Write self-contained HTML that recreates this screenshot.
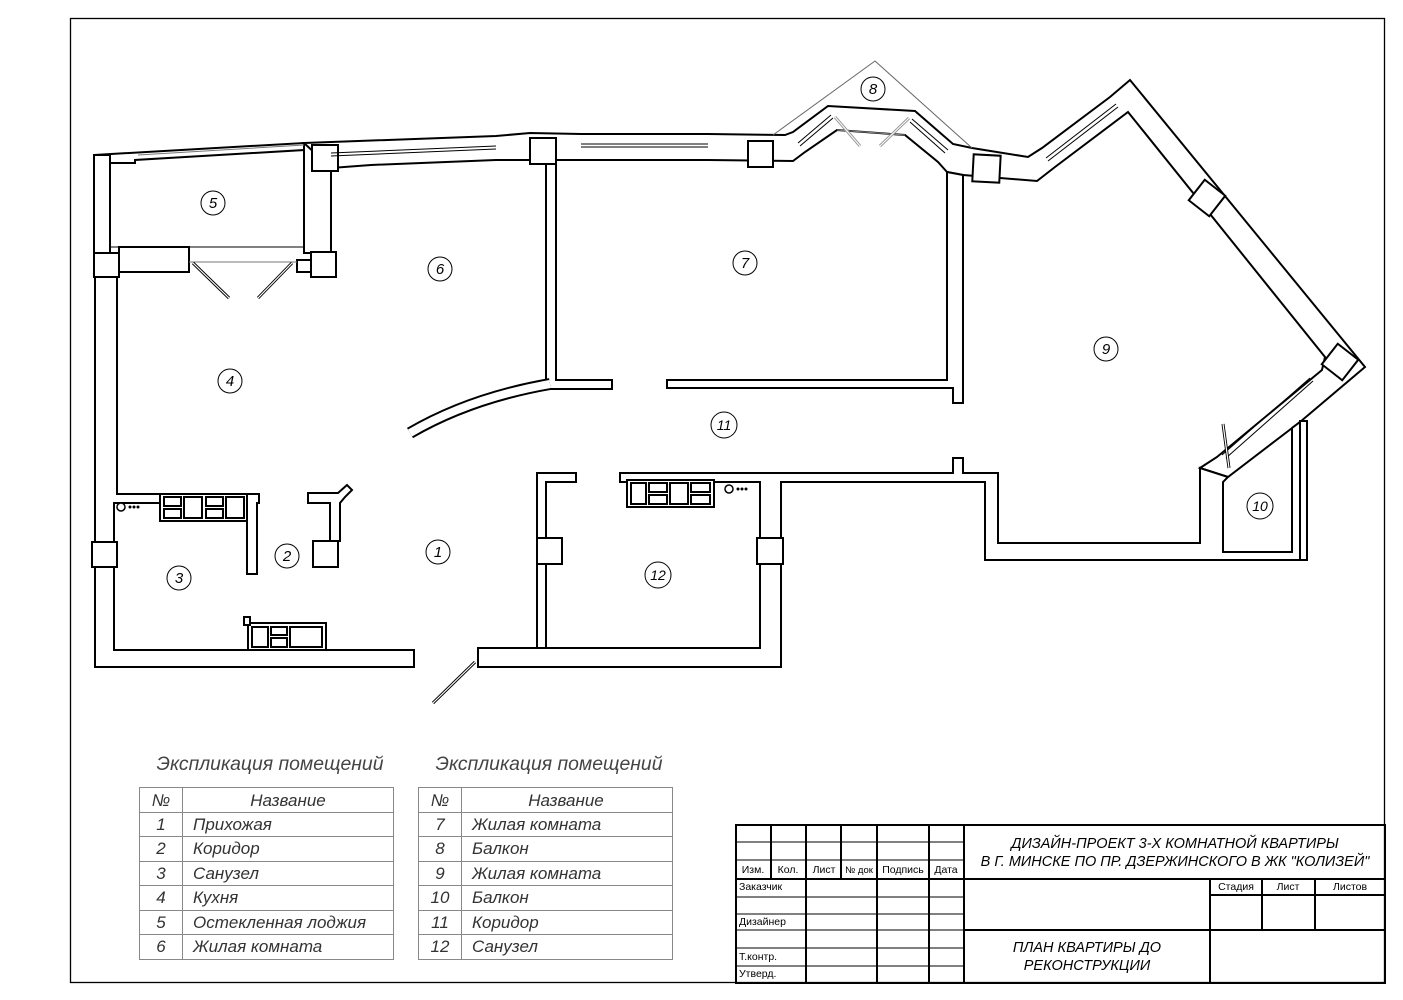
<!DOCTYPE html>
<html><head><meta charset="utf-8"><style>
html,body{margin:0;padding:0;background:#fff;}
svg{display:block;}
text{font-family:"Liberation Sans",sans-serif;}
</style></head><body>
<svg width="1403" height="1000" viewBox="0 0 1403 1000" xmlns="http://www.w3.org/2000/svg">
<rect x="0" y="0" width="1403" height="1000" fill="#fff"/>
<rect x="70.5" y="18.5" width="1314" height="964" fill="none" stroke="#000" stroke-width="1.3"/>

<g fill="#fff" stroke="#000" stroke-width="2" stroke-linejoin="miter">
<polygon points="94,155 304,143 304,150 135,160 135,163 110,163 110,155"/>
<rect x="94" y="155" width="16" height="98"/>
<rect x="94" y="253" width="25" height="24"/>
<polygon points="95,277 117,277 117,494 259,494 259,503 257,503 257,574 247,574 247,503 114,503 114,650 414,650 414,667 95,667"/>
<rect x="92" y="542" width="25" height="25"/>
<rect x="119" y="247" width="70" height="25"/>
<rect x="297" y="260" width="14" height="12"/>
<rect x="304" y="143" width="27" height="110"/>
<polygon points="304,143 496,136 530,133 581,134 708,134 785,135 793,132 828,106 915,111 953,144 972,148 1028,157 1042,148 1110,97 1130,80 1365,367 1300,422 1228,477 1200,468 1217,457 1322,370 1325,357 1128,112 1055,167 1037,181 1000,178 963,175 947,172 938,162 905,135 837,130 805,152 793,161 708,160 556,160 496,160 371,165 331,168"/>
<polygon points="546,164 556,164 556,380 612,380 612,389 556,389 546,389"/>
<polygon points="667,380 947,380 947,172 963,175 963,403 953,403 953,388 667,388"/>
<polygon points="620,473 953,473 953,458 963,458 963,473 998,473 998,543 1200,543 1200,468 1228,477 1223,482 1223,552 1292,552 1292,428 1300,422 1300,560 985,560 985,482 781,482 781,667 478,667 478,648 760,648 760,482 620,482"/>
<polygon points="537,473 576,473 576,482 546,482 546,648 537,648"/>
<rect x="1300" y="421" width="7" height="139"/>
<rect x="312" y="145" width="26" height="26"/>
<rect x="311" y="252" width="25" height="25"/>
<rect x="530" y="138" width="26" height="26"/>
<rect x="748" y="141" width="25" height="26"/>
<rect x="973" y="155" width="27" height="27" transform="rotate(3 986 168)"/>
<rect x="1194" y="185" width="26" height="26" transform="rotate(-52 1207 198)"/>
<rect x="1327" y="349" width="26" height="26" transform="rotate(-52 1340 362)"/>
<rect x="537" y="538" width="25" height="26"/>
<rect x="757" y="538" width="26" height="26"/>
<polygon points="308,493 338,493 347,485 352,490 345,497 340,503 340,541 330,541 330,503 308,503"/>
<rect x="313" y="541" width="25" height="26"/>
</g>

<path d="M550,384 Q470,398 410,433" fill="none" stroke="#000" stroke-width="12"/>
<path d="M550,384 Q470,398 410,433" fill="none" stroke="#fff" stroke-width="8"/>

<g stroke="#000" stroke-width="1" fill="none">
<line x1="331" y1="156" x2="496" y2="149"/><line x1="331" y1="153" x2="496" y2="146"/>
<line x1="581" y1="147" x2="708" y2="147"/><line x1="581" y1="144" x2="708" y2="144"/>
<line x1="800" y1="146" x2="833" y2="118"/><line x1="798" y1="143" x2="831" y2="115"/>
<line x1="910" y1="122" x2="945" y2="153"/><line x1="912" y1="119" x2="948" y2="150"/>
<line x1="1048" y1="161" x2="1118" y2="107"/><line x1="1046" y1="158" x2="1116" y2="104"/>
<line x1="1310" y1="378" x2="1222" y2="455"/><line x1="1313" y1="381" x2="1226" y2="458"/>
<line x1="138" y1="155" x2="304" y2="145" stroke="#777"/>
<line x1="110" y1="247" x2="304" y2="247"/>
<line x1="189" y1="262" x2="297" y2="262" stroke="#777"/>
</g>
<polyline points="773,135 875,61 972,148" fill="none" stroke="#666" stroke-width="1"/>
<polyline points="837,130 905,135" fill="none" stroke="#888" stroke-width="1"/>
<g stroke="#000" stroke-width="3" fill="none">
<line x1="193" y1="263" x2="229" y2="298"/><line x1="292" y1="263" x2="258" y2="298"/>
<line x1="475" y1="662" x2="433" y2="703"/>
<line x1="1223" y1="424" x2="1229" y2="468"/>
</g>
<g stroke="#fff" stroke-width="1.2" fill="none">
<line x1="193" y1="263" x2="229" y2="298"/><line x1="292" y1="263" x2="258" y2="298"/>
<line x1="475" y1="662" x2="433" y2="703"/>
<line x1="1223" y1="424" x2="1229" y2="468"/>
</g>
<g stroke="#999" stroke-width="3" fill="none"><line x1="835" y1="117" x2="860" y2="146"/><line x1="909" y1="118" x2="880" y2="146"/></g>
<g stroke="#fff" stroke-width="1" fill="none"><line x1="835" y1="117" x2="860" y2="146"/><line x1="909" y1="118" x2="880" y2="146"/></g>

<g fill="#fff" stroke="#000" stroke-width="2">
<rect x="160" y="494" width="87" height="27"/>
<rect x="164" y="497" width="17" height="9"/><rect x="164" y="509" width="17" height="9"/>
<rect x="184" y="497" width="18" height="21"/>
<rect x="206" y="497" width="17" height="9"/><rect x="206" y="509" width="17" height="9"/>
<rect x="226" y="497" width="18" height="21"/>
<rect x="627" y="480" width="87" height="27"/>
<rect x="631" y="483" width="15" height="21"/>
<rect x="649" y="483" width="18" height="9"/><rect x="649" y="495" width="18" height="9"/>
<rect x="670" y="483" width="18" height="21"/>
<rect x="691" y="483" width="19" height="9"/><rect x="691" y="495" width="19" height="9"/>
<rect x="248" y="623" width="78" height="27"/>
<rect x="244" y="617" width="6" height="8"/>
<rect x="252" y="627" width="16" height="20"/>
<rect x="271" y="627" width="16" height="8"/><rect x="271" y="638" width="16" height="9"/>
<rect x="290" y="627" width="32" height="20"/>
</g>
<g fill="#fff" stroke="#000" stroke-width="1.5">
<circle cx="121" cy="507" r="4"/><circle cx="729" cy="489" r="4"/>
</g>
<g fill="#000"><circle cx="130" cy="507" r="1.5"/><circle cx="134" cy="507" r="1.5"/><circle cx="138" cy="507" r="1.5"/>
<circle cx="738" cy="489" r="1.5"/><circle cx="742" cy="489" r="1.5"/><circle cx="746" cy="489" r="1.5"/></g>

<g fill="#fff" stroke="#000" stroke-width="1">
<circle cx="213" cy="203" r="12"/><circle cx="440" cy="269" r="12"/><circle cx="745" cy="263" r="12"/>
<circle cx="873" cy="89" r="12"/><circle cx="1106" cy="349" r="12"/><circle cx="1260" cy="506" r="13"/>
<circle cx="724" cy="425" r="13"/><circle cx="658" cy="575" r="13"/><circle cx="438" cy="552" r="12"/>
<circle cx="287" cy="556" r="12"/><circle cx="179" cy="578" r="12"/><circle cx="230" cy="381" r="12"/>
</g>
<g font-size="15" font-style="italic" text-anchor="middle" fill="#000">
<text x="213" y="208">5</text><text x="440" y="274">6</text><text x="745" y="268">7</text>
<text x="873" y="94">8</text><text x="1106" y="354">9</text><text x="1260" y="511" font-size="14">10</text>
<text x="724" y="430" font-size="14">11</text><text x="658" y="580" font-size="14">12</text><text x="438" y="557">1</text>
<text x="287" y="561">2</text><text x="179" y="583">3</text><text x="230" y="386">4</text>
</g>

<g font-size="19" font-style="italic" fill="#444" text-anchor="middle">
<text x="270" y="770" textLength="227" lengthAdjust="spacingAndGlyphs">Экспликация помещений</text>
<text x="549" y="770" textLength="227" lengthAdjust="spacingAndGlyphs">Экспликация помещений</text>
</g>
<g fill="none" stroke="#888" stroke-width="1">
<rect x="139.5" y="787.5" width="254" height="172"/>
<line x1="182.5" y1="787" x2="182.5" y2="960"/>
<line x1="139" y1="812.5" x2="394" y2="812.5"/><line x1="139" y1="836.5" x2="394" y2="836.5"/>
<line x1="139" y1="861.5" x2="394" y2="861.5"/><line x1="139" y1="885.5" x2="394" y2="885.5"/>
<line x1="139" y1="910.5" x2="394" y2="910.5"/><line x1="139" y1="934.5" x2="394" y2="934.5"/>
<rect x="418.5" y="787.5" width="254" height="172"/>
<line x1="461.5" y1="787" x2="461.5" y2="960"/>
<line x1="418" y1="812.5" x2="673" y2="812.5"/><line x1="418" y1="836.5" x2="673" y2="836.5"/>
<line x1="418" y1="861.5" x2="673" y2="861.5"/><line x1="418" y1="885.5" x2="673" y2="885.5"/>
<line x1="418" y1="910.5" x2="673" y2="910.5"/><line x1="418" y1="934.5" x2="673" y2="934.5"/>
</g>
<g font-size="17" font-style="italic" fill="#333">
<text x="161" y="806" text-anchor="middle">№</text><text x="288" y="806" text-anchor="middle">Название</text>
<text x="161" y="830" text-anchor="middle">1</text><text x="193" y="830">Прихожая</text>
<text x="161" y="854" text-anchor="middle">2</text><text x="193" y="854">Коридор</text>
<text x="161" y="879" text-anchor="middle">3</text><text x="193" y="879">Санузел</text>
<text x="161" y="903" text-anchor="middle">4</text><text x="193" y="903">Кухня</text>
<text x="161" y="928" text-anchor="middle">5</text><text x="193" y="928">Остекленная лоджия</text>
<text x="161" y="952" text-anchor="middle">6</text><text x="193" y="952">Жилая комната</text>
<text x="440" y="806" text-anchor="middle">№</text><text x="566" y="806" text-anchor="middle">Название</text>
<text x="440" y="830" text-anchor="middle">7</text><text x="472" y="830">Жилая комната</text>
<text x="440" y="854" text-anchor="middle">8</text><text x="472" y="854">Балкон</text>
<text x="440" y="879" text-anchor="middle">9</text><text x="472" y="879">Жилая комната</text>
<text x="440" y="903" text-anchor="middle">10</text><text x="472" y="903">Балкон</text>
<text x="440" y="928" text-anchor="middle">11</text><text x="472" y="928">Коридор</text>
<text x="440" y="952" text-anchor="middle">12</text><text x="472" y="952">Санузел</text>
</g>

<g fill="none" stroke="#000" stroke-width="2">
<rect x="736" y="825" width="649" height="158"/>
<line x1="771" y1="825" x2="771" y2="879"/>
<line x1="806" y1="825" x2="806" y2="983"/>
<line x1="841" y1="825" x2="841" y2="879"/>
<line x1="877" y1="825" x2="877" y2="983"/>
<line x1="929" y1="825" x2="929" y2="983"/>
<line x1="964" y1="825" x2="964" y2="983"/>
<line x1="736" y1="879" x2="1385" y2="879"/>
<line x1="964" y1="930" x2="1385" y2="930"/>
<line x1="1210" y1="879" x2="1210" y2="983"/>
<line x1="1262" y1="879" x2="1262" y2="930"/>
<line x1="1315" y1="879" x2="1315" y2="930"/>
<line x1="1210" y1="895" x2="1385" y2="895"/>
</g>
<g fill="none" stroke="#000" stroke-width="1">
<line x1="736" y1="842" x2="964" y2="842"/>
<line x1="736" y1="860" x2="964" y2="860"/>
<line x1="736" y1="897" x2="964" y2="897"/>
<line x1="736" y1="914" x2="964" y2="914"/>
<line x1="736" y1="930" x2="964" y2="930"/>
<line x1="736" y1="948" x2="964" y2="948"/>
<line x1="736" y1="966" x2="964" y2="966"/>
</g>
<g font-size="10.5" fill="#000">
<text x="753" y="873" text-anchor="middle">Изм.</text>
<text x="788" y="873" text-anchor="middle">Кол.</text>
<text x="824" y="873" text-anchor="middle">Лист</text>
<text x="859" y="873" text-anchor="middle" font-size="9.5">№ док</text>
<text x="903" y="873" text-anchor="middle">Подпись</text>
<text x="946" y="873" text-anchor="middle">Дата</text>
<text x="739" y="890">Заказчик</text>
<text x="739" y="925">Дизайнер</text>
<text x="739" y="960">Т.контр.</text>
<text x="739" y="977">Утверд.</text>
<text x="1236" y="890" text-anchor="middle">Стадия</text>
<text x="1288" y="890" text-anchor="middle">Лист</text>
<text x="1350" y="890" text-anchor="middle">Листов</text>
</g>
<g font-size="14.5" font-style="italic" fill="#000" text-anchor="middle">
<text x="1175" y="848">ДИЗАЙН-ПРОЕКТ 3-Х КОМНАТНОЙ КВАРТИРЫ</text>
<text x="1175" y="866">В Г. МИНСКЕ ПО ПР. ДЗЕРЖИНСКОГО В ЖК "КОЛИЗЕЙ"</text>
<text x="1087" y="952">ПЛАН КВАРТИРЫ ДО</text>
<text x="1087" y="970">РЕКОНСТРУКЦИИ</text>
</g>
</svg>
</body></html>
